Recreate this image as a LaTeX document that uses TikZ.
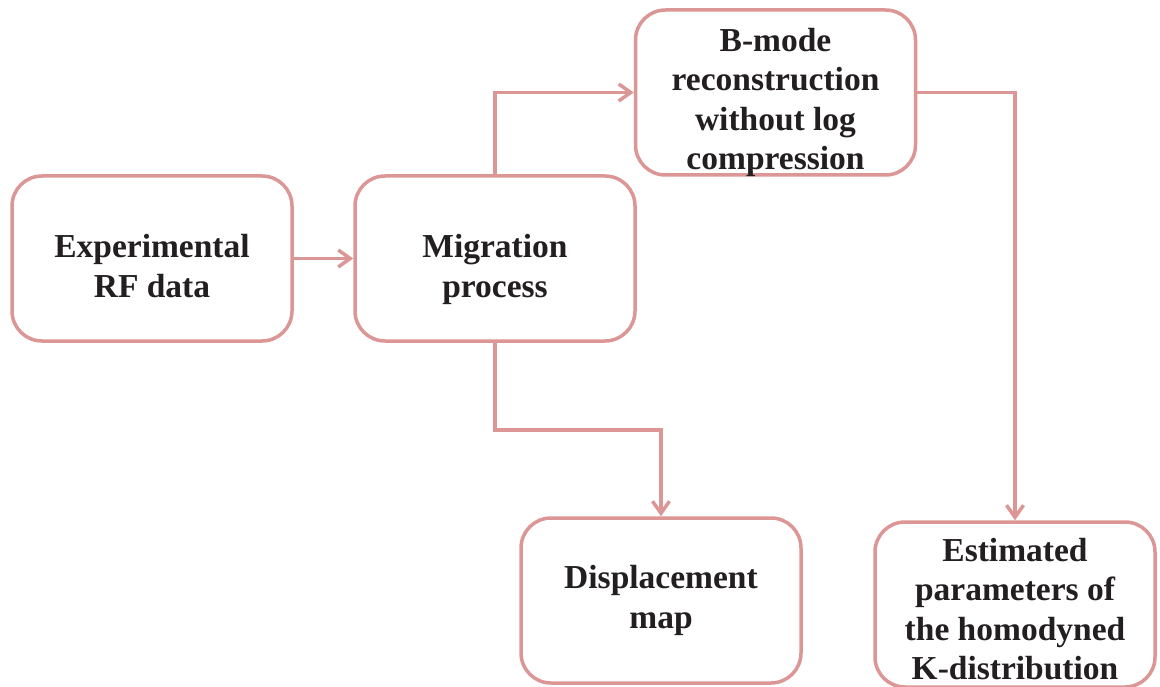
\documentclass[tikz,border=0pt]{standalone}
\usepackage{fontspec}
\setmainfont{Liberation Serif}
\usetikzlibrary{arrows.meta}
\definecolor{boxline}{RGB}{220,150,150}
\definecolor{boxtext}{RGB}{35,31,32}
% centred lines of a box label, lowered by #1 without changing the box size
\newcommand\boxlabel[2]{\raisebox{-#1}[\height][\depth]{\begin{tabular}{@{}c@{}}#2\end{tabular}}}
\tikzset{
  procbox/.style={draw=boxline, line width=3.5pt, rounded corners=30pt,
    minimum width=280pt, minimum height=165pt, inner sep=0pt,
    text=boxtext, font=\fontsize{33.5}{39.5}\selectfont\bfseries},
  flow/.style={draw=boxline, line width=3.5pt,
    -{Straight Barb[length=12pt, width=17pt, line width=3.5pt]}}
}
\begin{document}
\begin{tikzpicture}[x=1pt, y=-1pt]
  \useasboundingbox (0,0) rectangle (1160,687);
  \clip (0,0) rectangle (1160,687);
  \fill[white] (0,0) rectangle (1160,687);

  % processing stages
  \node[procbox] (rf)   at (152,258.5) {\boxlabel{11pt}{Experimental\\RF data}};
  \node[procbox] (mig)  at (495,258.5) {\boxlabel{11pt}{Migration\\process}};
  \node[procbox] (bm)   at (775.5,92.5) {\boxlabel{10pt}{B-mode\\reconstruction\\without log\\compression}};
  \node[procbox] (disp) at (661,600.5) {\boxlabel{0pt}{Displacement\\map}};
  \node[procbox] (est)  at (1015,604.5) {\boxlabel{8pt}{Estimated\\parameters of\\the homodyned\\K-distribution}};

  % bend point of the displacement branch
  \coordinate (dbend) at (661,430);

  % connectors
  \draw[flow] (rf) -- (mig);
  \draw[flow] (mig.north) |- (bm.west);
  \draw[flow] (mig.south) |- (dbend) -- (disp.north);
  \draw[flow] (bm.east) -| (est.north);
\end{tikzpicture}
\end{document}
